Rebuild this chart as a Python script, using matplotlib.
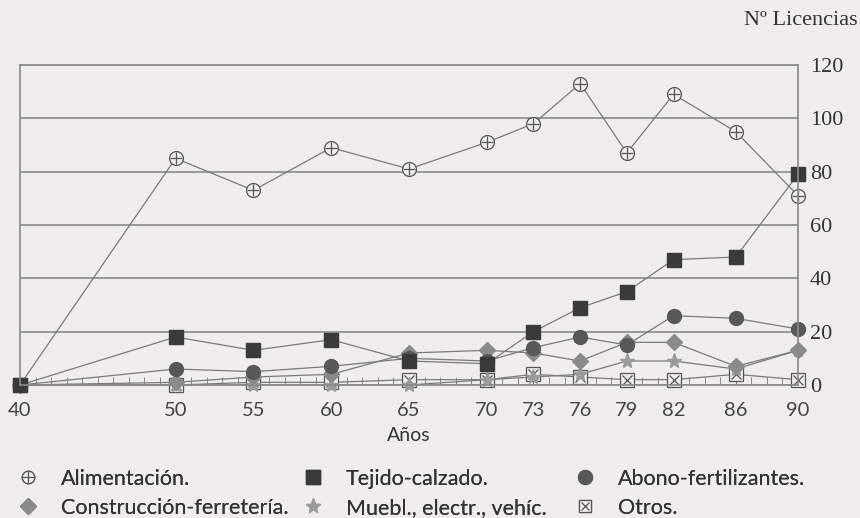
import numpy as np
import matplotlib.pyplot as plt
from matplotlib.lines import Line2D
from matplotlib.legend_handler import HandlerTuple

years = [40, 50, 55, 60, 65, 70, 73, 76, 79, 82, 86, 90]

alimentacion = [0, 85, 73, 89, 81, 91, 98, 113, 87, 109, 95, 71]
tejido = [0, 18, 13, 17, 9, 8, 20, 29, 35, 47, 48, 79]
abono = [0, 6, 5, 7, 10, 9, 14, 18, 15, 26, 25, 21]
construccion = [0, 1, 3, 4, 12, 13, 12, 9, 16, 16, 7, 13]
muebles = [0, 0, 0, 0, 0, 2, 3, 4, 9, 9, 6, 13]
otros = [0, 0, 1, 1, 2, 2, 4, 3, 2, 2, 4, 2]

y_ticks = [0, 20, 40, 60, 80, 100, 120]

bg = "#eeedeb"
line_c = "#7a7a7a"

fig = plt.figure(figsize=(8.6, 5.18), dpi=100, facecolor=bg)
ax = fig.add_axes([20 / 860, 1 - 385 / 518, 778 / 860, 320 / 518])
ax.set_facecolor(bg)

kw = dict(color=line_c, lw=0.9, clip_on=False)

# Alimentación: circle with a plus
ax.plot(years, alimentacion, marker="o", ms=10, mfc=bg, mec="#555555", mew=0.9, **kw)
ax.plot(years, alimentacion, ls="none", marker="+", ms=9, mec="#555555", mew=0.9, clip_on=False)

ax.plot(years, otros, marker="s", ms=10, mfc=bg, mec="#555555", mew=0.9, **kw)
ax.plot(years, otros, ls="none", marker="x", ms=7, mec="#555555", mew=0.9, clip_on=False)

ax.plot(years, muebles, marker="*", ms=11, mfc="#9a9a9a", mec="#9a9a9a", **kw)
ax.plot(years, construccion, marker="D", ms=8, mfc="#8a8a8a", mec="#8a8a8a", **kw)
ax.plot(years, abono, marker="o", ms=10, mfc="#585858", mec="#585858", **kw)
ax.plot(years, tejido, marker="s", ms=10, mfc="#3a3a3a", mec="#3a3a3a", **kw)

ax.set_xlim(40, 90)
ax.set_ylim(0, 120)
ax.set_xticks(years)
ax.set_xticks(range(40, 91), minor=True)
ax.set_yticks(y_ticks)
ax.grid(axis="y", color="#8a8a8a", lw=1.2)
ax.set_axisbelow(True)
for s in ax.spines.values():
    s.set_color("#8a8a8a")
    s.set_linewidth(1.2)

ax.tick_params(axis="x", which="both", direction="in", length=6, color="#777777",
               labelsize=14.5, pad=12)
ax.tick_params(axis="y", left=False, right=False, labelleft=False, labelright=True,
               labelsize=16, pad=5)
for lab in ax.get_xticklabels():
    lab.set_fontfamily("Lato")
    lab.set_color("#444444")
for lab in ax.get_yticklabels():
    lab.set_fontfamily("Liberation Serif")
    lab.set_color("#333333")

ax.set_xlabel("Años", fontsize=14, family="Lato", color="#333333", labelpad=6)
fig.text(0.997, 0.961, "Nº Licencias", ha="right", va="center", fontsize=16,
         family="Liberation Serif", color="#333333")

# legend: three fixed columns
h_alim = (Line2D([], [], ls="none", marker="o", ms=9, mfc=bg, mec="#555555", mew=0.9),
          Line2D([], [], ls="none", marker="+", ms=8, mec="#555555", mew=0.9))
h_otros = (Line2D([], [], ls="none", marker="s", ms=9, mfc=bg, mec="#555555", mew=0.9),
           Line2D([], [], ls="none", marker="x", ms=6, mec="#555555", mew=0.9))
h_tej = Line2D([], [], ls="none", marker="s", ms=10, mfc="#3a3a3a", mec="#3a3a3a")
h_abono = Line2D([], [], ls="none", marker="o", ms=10, mfc="#585858", mec="#585858")
h_cons = Line2D([], [], ls="none", marker="D", ms=8, mfc="#8a8a8a", mec="#8a8a8a")
h_mueb = Line2D([], [], ls="none", marker="*", ms=11, mfc="#9a9a9a", mec="#9a9a9a")

columns = [
    ([h_alim, h_cons], ["Alimentación.", "Construcción-ferretería."], 17),
    ([h_tej, h_mueb], ["Tejido-calzado.", "Muebl., electr., vehíc."], 302),
    ([h_abono, h_otros], ["Abono-fertilizantes.", "Otros."], 574),
]
for hs, ls, x0 in columns:
    leg = fig.legend(hs, ls, loc="upper left", bbox_to_anchor=(x0 / 860, 1 - 469 / 518),
                     frameon=False, borderpad=0, borderaxespad=0,
                     handlelength=1.0, handletextpad=1.03, labelspacing=0.4,
                     handler_map={tuple: HandlerTuple(ndivide=1, pad=0)},
                     prop={"family": "Lato", "size": 15.5})
    for t in leg.get_texts():
        t.set_color("#333333")
    fig.add_artist(leg)

fig.savefig("out.png", dpi=100, facecolor=bg)
